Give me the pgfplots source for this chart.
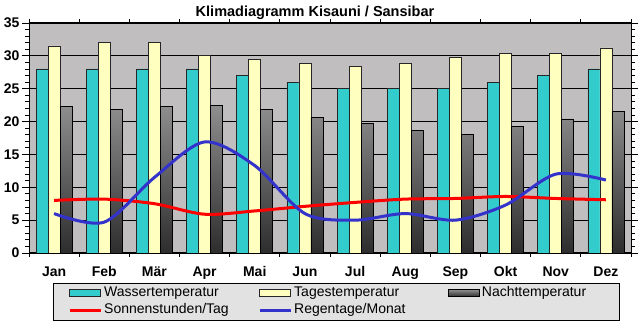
\documentclass[border=0pt]{standalone}
\usepackage{pgfplots}
\pgfplotsset{compat=1.18}
\usepackage{fontspec}
\setmainfont{Liberation Sans}
\definecolor{water}{RGB}{51,204,204}
\definecolor{day}{RGB}{255,255,192}
\definecolor{nighttop}{RGB}{142,142,142}
\definecolor{nightbot}{RGB}{45,45,45}
\definecolor{bggray}{RGB}{192,190,190}
\definecolor{legendgray}{RGB}{226,226,226}
\definecolor{sunred}{RGB}{255,0,0}
\definecolor{rainblue}{RGB}{51,51,204}
\pgfplotsset{
  barleg/.style={legend image code/.code={\draw[##1] (0pt,-3.5pt) rectangle (31pt,3.5pt);}},
  lineleg/.style={legend image code/.code={\draw[##1] (0pt,0pt) -- (31pt,0pt);}},
}
\begin{document}
\begin{tikzpicture}[x=1pt,y=1pt]
\useasboundingbox (0,0) rectangle (640,323);
\node[anchor=base, font=\fontsize{14.5}{16}\selectfont\bfseries] at (315,306) {Klimadiagramm Kisauni / Sansibar};
\begin{axis}[
  at={(29pt,70pt)}, anchor=south west,
  scale only axis, width=602pt, height=230pt,
  xmin=-0.5, xmax=11.5, ymin=0, ymax=35,
  xtick={0,...,11},
  xticklabels={Jan,Feb,Mär,Apr,Mai,Jun,Jul,Aug,Sep,Okt,Nov,Dez},
  minor xtick={-0.5,0.5,...,11.5},
  ytick={0,5,...,35},
  minor y tick num=4,
  tick align=outside,
  major tick length=7pt, minor tick length=4pt,
  major x tick style={draw=none},
  ymajorgrids, grid style={black, line width=0.8pt},
  axis line style={black, line width=1pt},
  tick style={black, line width=0.8pt},
  ticklabel style={font=\fontsize{14}{16}\selectfont\bfseries},
  xticklabel style={yshift=-3pt},
  yticklabel style={xshift=1pt},
  axis background/.style={fill=bggray},
  /pgf/number format/assume math mode=true,
  legend columns=3,
  legend style={at={(0.0399,-0.1304)}, anchor=north west, draw=black, fill=legendgray,
    inner xsep=15pt, inner ysep=3pt, row sep=3pt,
    font=\fontsize{14}{16}\selectfont,
    nodes={inner xsep=0pt, inner ysep=0.5pt, text height=10pt, text depth=3pt},
    /tikz/every even column/.append style={column sep=0pt}},
]
\addplot[ybar, bar width=12pt, bar shift=-12pt, fill=water, draw=black!85, line width=0.7pt, barleg]
  coordinates {(0,28) (1,28) (2,28) (3,28) (4,27) (5,26) (6,25) (7,25) (8,25) (9,26) (10,27) (11,28)};
\addlegendentry{\makebox[156pt][l]{\hspace{2pt}Wassertemperatur}}
\addplot[ybar, bar width=12pt, bar shift=0pt, fill=day, draw=black!85, line width=0.7pt, barleg]
  coordinates {(0,31.5) (1,32) (2,32) (3,30.1) (4,29.5) (5,28.9) (6,28.4) (7,28.9) (8,29.8) (9,30.4) (10,30.4) (11,31.2)};
\addlegendentry{\makebox[156pt][l]{\hspace{2pt}Tagestemperatur}}
\addplot[ybar, bar width=12pt, bar shift=12pt, top color=nighttop, bottom color=nightbot, draw=black, line width=0.7pt, barleg]
  coordinates {(0,22.3) (1,21.9) (2,22.3) (3,22.4) (4,21.8) (5,20.6) (6,19.7) (7,18.6) (8,18.1) (9,19.2) (10,20.4) (11,21.6)};
\addlegendentry{\makebox[124pt][l]{\hspace{2pt}Nachttemperatur}}
\addplot[smooth, sunred, line width=3pt, mark=none, lineleg]
  coordinates {(0,8.0) (1,8.2) (2,7.5) (3,5.9) (4,6.4) (5,7.1) (6,7.7) (7,8.2) (8,8.3) (9,8.6) (10,8.3) (11,8.1)};
\addlegendentry{\makebox[156pt][l]{\hspace{2pt}Sonnenstunden/Tag}}
\addplot[smooth, rainblue, line width=3pt, mark=none, lineleg]
  coordinates {(0,6.0) (1,4.7) (2,11.5) (3,16.9) (4,13.3) (5,6.0) (6,5.0) (7,6.0) (8,5.0) (9,7.3) (10,12.0) (11,11.1)};
\addlegendentry{\makebox[156pt][l]{\hspace{2pt}Regentage/Monat}}
\end{axis}
\end{tikzpicture}
\end{document}
